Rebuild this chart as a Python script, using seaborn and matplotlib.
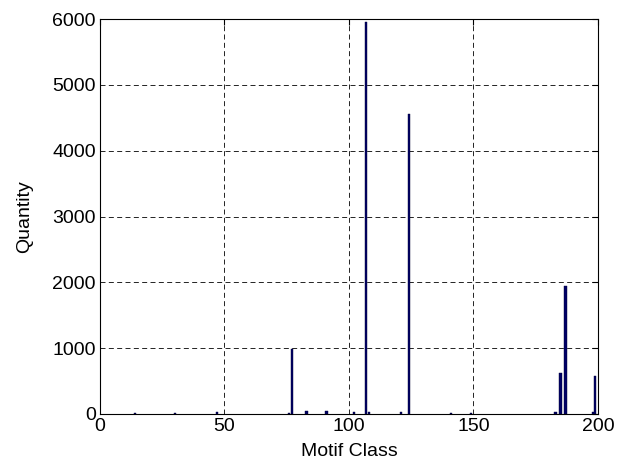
import numpy as np
import pandas as pd
import matplotlib
matplotlib.use('Agg')
import matplotlib.pyplot as plt
import seaborn as sns

# motif classes with non-zero counts
motif_class = [14, 30, 47, 76, 77, 83, 91, 102, 107, 108, 121, 124, 141, 149, 183, 185, 187, 198, 199]
quantity = [15, 20, 25, 20, 990, 40, 40, 30, 5950, 30, 25, 4550, 10, 15, 30, 620, 1950, 30, 575]

df = pd.DataFrame({'Motif Class': motif_class, 'Quantity': quantity})

sns.set_style('white')
plt.rcParams['font.family'] = ['Liberation Sans', 'DejaVu Sans']

fig = plt.figure(figsize=(6.27, 4.67), dpi=100)
ax = fig.add_axes([0.1595, 0.1135, 0.794, 0.8458])

sns.barplot(data=df, x='Motif Class', y='Quantity', native_scale=True, width=0.9,
            color='#000066', edgecolor='#000033', linewidth=0.3, saturation=1, ax=ax, zorder=3)

ax.set_xlim(0, 200)
ax.set_ylim(0, 6000)
ax.set_xticks(np.arange(0, 201, 50))
ax.set_yticks(np.arange(0, 6001, 1000))
ax.grid(True, color='black', linestyle=(0, (6, 4)), linewidth=0.6)
ax.set_axisbelow(True)
for s in ax.spines.values():
    s.set_visible(True)
    s.set_color('black')
    s.set_linewidth(0.8)
ax.tick_params(direction='in', length=4, width=0.8, top=True, right=True,
               labelsize=14, colors='black', pad=3)
ax.set_xlabel('Motif Class', fontsize=14, labelpad=6, color='black')
ax.set_ylabel('Quantity', fontsize=14, labelpad=14, color='black')

fig.savefig('out.png', dpi=100)
